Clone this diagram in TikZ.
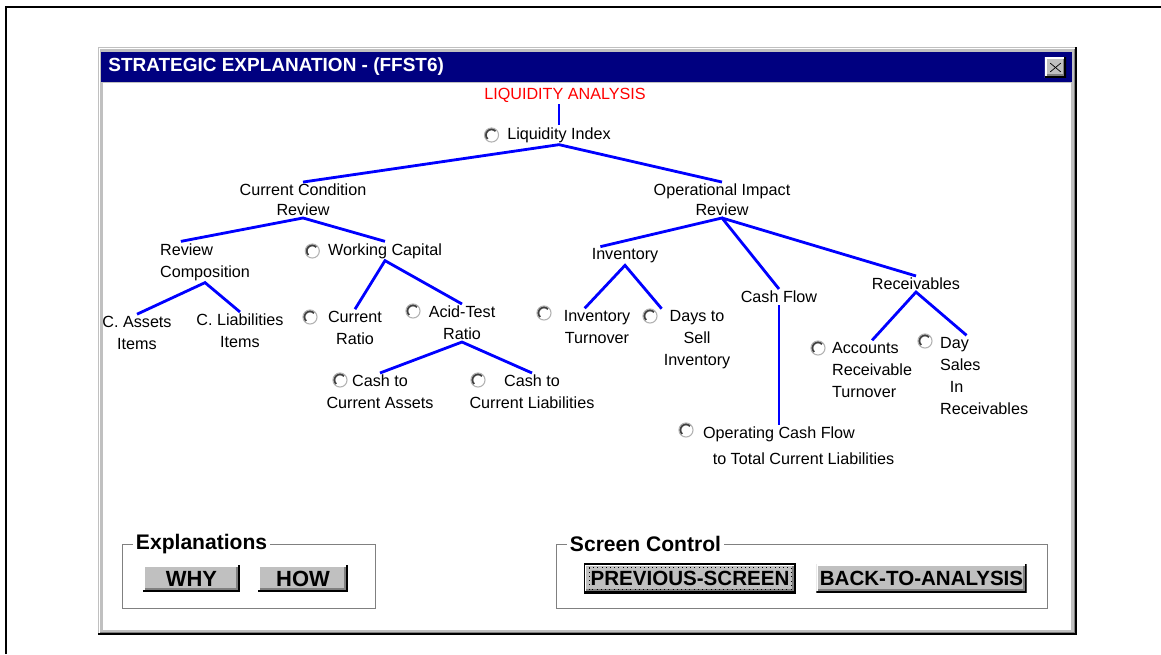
\documentclass[tikz,border=0pt]{standalone}
\usepackage{fontspec}
\setmainfont{Liberation Sans}
\usetikzlibrary{positioning}

\definecolor{navy}{RGB}{0,0,128}
\definecolor{wingray}{RGB}{192,192,192}
\definecolor{windark}{RGB}{128,128,128}
\definecolor{treeblue}{RGB}{0,0,255}
\definecolor{titlered}{RGB}{255,0,0}

\tikzset{
  lbl/.style={font=\fontsize{9.2}{12.5}\selectfont, inner sep=1pt, align=center},
  branch/.style={treeblue, line width=1.6pt},
  radio/.style={circle, minimum size=8pt, inner sep=0pt, fill=white, draw=black!30, line width=0.6pt,
    path picture={\draw[black!75, line width=1.5pt] ([shift={(45:3.4pt)}]path picture bounding box.center)
      arc[start angle=45, end angle=225, radius=3.4pt];}},
  checked/.style={radio,
    path picture={\draw[black!75, line width=1.5pt] ([shift={(45:3.4pt)}]path picture bounding box.center)
      arc[start angle=45, end angle=225, radius=3.4pt];
      \fill (path picture bounding box.center) circle[radius=1.3pt];}},
  winbtn/.style={fill=wingray, inner sep=0pt, font=\bfseries\fontsize{11.7}{12}\selectfont,
    path picture={
      \draw[white, line width=2pt] (path picture bounding box.south west) -- (path picture bounding box.north west) -- (path picture bounding box.north east);
      \draw[black, line width=2pt] (path picture bounding box.south west) -- (path picture bounding box.south east) -- (path picture bounding box.north east);
      \draw[windark, line width=1pt] ([shift={(1pt,1.5pt)}]path picture bounding box.south west) -- ([shift={(-1.5pt,1.5pt)}]path picture bounding box.south east) -- ([shift={(-1.5pt,-1pt)}]path picture bounding box.north east);}},
  defbtn/.style={draw=black, line width=1pt},
  xbtn/.style={winbtn, minimum width=12pt, minimum height=11.5pt,
    append after command={[windark, line width=1.3pt]
      ([shift={(-3pt,-2.5pt)}]\tikzlastnode.center) edge ([shift={(3pt,2.5pt)}]\tikzlastnode.center)
      ([shift={(-3pt,2.5pt)}]\tikzlastnode.center) edge ([shift={(3pt,-2.5pt)}]\tikzlastnode.center)}},
  grplbl/.style={font=\bfseries\fontsize{12}{12}\selectfont, fill=white, inner sep=1.5pt, anchor=west}
}

\begin{document}
\begin{tikzpicture}[x=0.02cm, y=-0.02cm]
\useasboundingbox (0,0) rectangle (1161,654);
% page frame
\draw[line width=1.6pt] (6,654) -- (6,7) -- (1161,7);
% window
\fill[wingray] (98,47) rectangle (1076,634);
\draw[white] (99,633) -- (99,48) -- (1075,48);
\fill[navy] (101,52) rectangle (1072,82);
\fill[white] (103,83) rectangle (1071,630);
\draw[black, line width=1pt] (98,634) -- (1076,634) -- (1076,47);
\draw[windark] (100,632) -- (1074,632) -- (1074,49);
\node[font=\bfseries\fontsize{10.8}{12}\selectfont, text=white, anchor=west, inner sep=0pt] (wtitle) at (108,67) {STRATEGIC EXPLANATION - (FFST6)};
\node[xbtn] (wclose) at (1055.5,67.5) {};

% tree
\node[lbl, text=titlered] (title) at (565,95) {LIQUIDITY ANALYSIS};
\node[lbl] (lidx) at (559,135) {Liquidity Index};
\node[radio, left=3.5pt of lidx] (rlidx) {};

\node[lbl] (ccr) at (303,200) {Current Condition\\[-1.2pt]Review};
\node[lbl] (oir) at (722,200) {Operational Impact\\[-1.2pt]Review};

\node[lbl, align=left, anchor=west] (rcomp) at (158,262) {Review\\Composition};
\node[lbl] (wcap) at (385,251) {Working Capital};
\node[checked, left=3.5pt of wcap] (rwcap) {};

\node[lbl] (cass) at (137,333) {C. Assets\\Items};
\node[lbl] (cliab) at (240,331) {C. Liabilities\\Items};

\node[lbl] (cratio) at (355,328) {Current\\Ratio};
\node[radio] (rcratio) at (310,317) {};
\node[lbl] (acid) at (462,323) {Acid-Test\\Ratio};
\node[radio] (racid) at (413,311) {};

\node[lbl] (c2ca) at (380,392) {Cash to\\Current Assets};
\node[radio] (rc2ca) at (340,380) {};
\node[lbl] (c2cl) at (532,392) {Cash to\\Current Liabilities};
\node[radio] (rc2cl) at (478,380) {};

\node[lbl] (inv) at (625,256) {Inventory};
\node[lbl] (invt) at (597,327) {Inventory\\Turnover};
\node[radio] (rinvt) at (544,313) {};
\node[lbl] (dsi) at (697,340) {Days to\\Sell\\Inventory};
\node[radio] (rdsi) at (650,316) {};

\node[lbl] (cflow) at (779,297) {Cash Flow};
\node[lbl, align=left, anchor=west] (ocf) at (701,446) {Operating Cash Flow\\[2.5pt]\hspace*{5.5pt}to Total Current Liabilities};
\node[radio] (rocf) at (686,430) {};

\node[lbl] (recv) at (916,284) {Receivables};
\node[lbl, align=left, anchor=west] (arto) at (830,370) {Accounts\\Receivable\\Turnover};
\node[radio] (rarto) at (818,348) {};
\node[lbl, align=left, anchor=west] (dsr) at (938,376) {Day\\Sales\\\hspace*{5.5pt}In\\Receivables};
\node[radio] (rdsr) at (925,341) {};

\draw[branch] (lidx.north |- title.south) -- (lidx.north);
\draw[branch] (ccr.north) -- (lidx.south) -- (oir.north);
\draw[branch] ([xshift=13pt]rcomp.north west) -- (ccr.south) -- (wcap.north);
\draw[branch] (cass.north) -- (rcomp.south) -- (cliab.north);
\draw[branch] (cratio.north) -- (wcap.south) -- (acid.north);
\draw[branch] (c2ca.north) -- (acid.south) -- (c2cl.north);
\draw[branch] ([xshift=-14pt]inv.north) -- (oir.south) -- (cflow.north);
\draw[branch] (oir.south) -- (recv.north);
\draw[branch] ([xshift=-7pt]invt.north) -- (inv.south) -- (dsi.north west);
\draw[branch] (cflow.south) -- (cflow.south |- ocf.north);
\draw[branch] (arto.north) -- (recv.south) -- ([xshift=-10pt]dsr.north);

% button groups
\draw[windark] (122,544) rectangle (375,608);
\node[grplbl] (explbl) at (133,544) {Explanations};
\node[winbtn, font=\bfseries\fontsize{12.5}{12}\selectfont, minimum width=55pt, minimum height=15.3pt] (why) at (191.5,578.5) {WHY};
\node[winbtn, font=\bfseries\fontsize{12.5}{12}\selectfont, minimum width=51pt, minimum height=15.3pt] (how) at (303,578.5) {HOW};

\draw[windark] (556,544) rectangle (1047,608);
\node[grplbl] (scrlbl) at (567,544) {Screen Control};
\node[winbtn, defbtn, minimum width=120pt, minimum height=16.4pt] (prev) at (690,578.5) {PREVIOUS-SCREEN};
\draw[dotted, line width=0.4pt] ([shift={(3pt,-2.5pt)}]prev.north west) rectangle ([shift={(-3pt,2.5pt)}]prev.south east);
\node[winbtn, minimum width=119.6pt, minimum height=16.4pt] (back) at (921.5,578.5) {BACK-TO-ANALYSIS};
\end{tikzpicture}
\end{document}
